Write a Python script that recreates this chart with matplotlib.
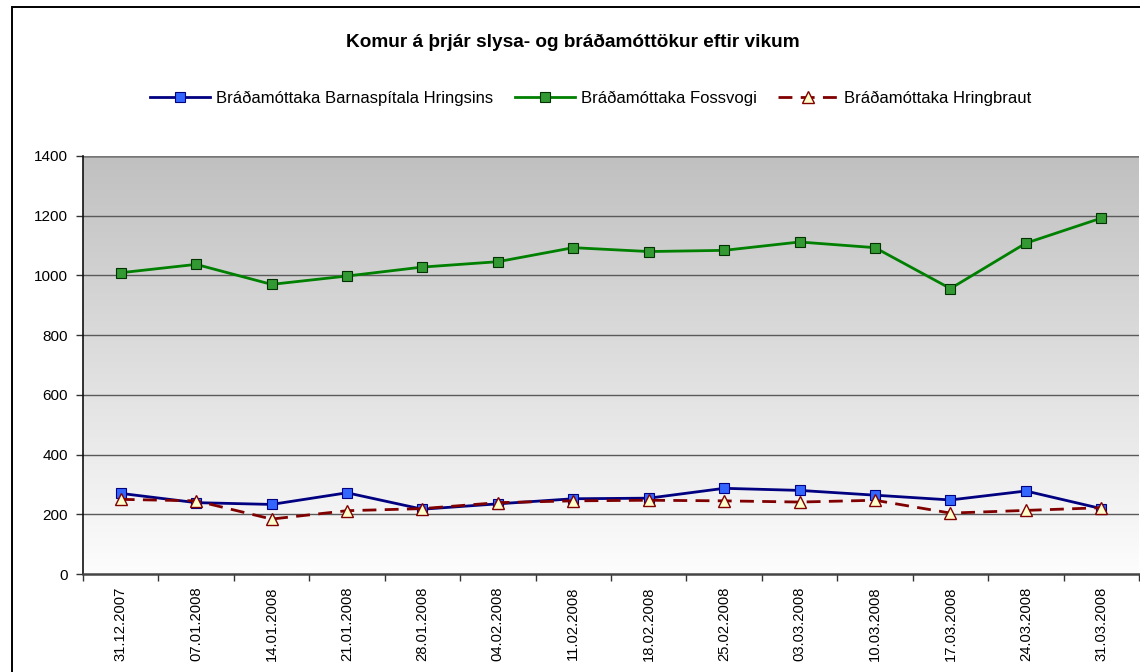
import matplotlib
matplotlib.use("Agg")
import matplotlib.pyplot as plt
import numpy as np
from matplotlib.patches import Rectangle

plt.rcParams['font.family'] = ['Liberation Sans', 'DejaVu Sans']

dates = ["31.12.2007", "07.01.2008", "14.01.2008", "21.01.2008", "28.01.2008",
         "04.02.2008", "11.02.2008", "18.02.2008", "25.02.2008", "03.03.2008",
         "10.03.2008", "17.03.2008", "24.03.2008", "31.03.2008"]
barnaspitali = [270, 239, 233, 272, 217, 235, 252, 254, 287, 280, 264, 248, 278, 219]
fossvogur = [1009, 1037, 970, 998, 1028, 1046, 1093, 1080, 1084, 1112, 1093, 956, 1108, 1192]
hringbraut = [250, 245, 184, 212, 219, 239, 245, 247, 245, 241, 247, 204, 213, 222]
names = ["Bráðamóttaka Barnaspítala Hringsins", "Bráðamóttaka Fossvogi",
         "Bráðamóttaka Hringbraut"]
title = "Komur á þrjár slysa- og bráðamóttökur eftir vikum"
yticks = [0, 200, 400, 600, 800, 1000, 1200, 1400]

W, H = 1140, 672
fig = plt.figure(figsize=(W / 100, H / 100), dpi=100)
fig.patch.set_facecolor("white")

# outer chart border
fig.patches.append(Rectangle((12 / W, -0.2), 1.2, 1 - 7 / H + 0.2,
                             transform=fig.transFigure, fill=False,
                             edgecolor="black", linewidth=1.4, zorder=0))

ax = fig.add_axes([83 / W, 1 - 574 / H, (1139 - 83) / W, (574 - 156) / H])
x = np.arange(len(dates))

# gradient background
grad = np.linspace(0, 1, 256).reshape(-1, 1)
top = np.array([192, 192, 192]) / 255
bot = np.array([253, 253, 253]) / 255
img = top[None, None, :] * (1 - grad[:, :, None]) + bot[None, None, :] * grad[:, :, None]
ax.imshow(img, extent=[0, 1, 0, 1], transform=ax.transAxes, aspect="auto",
          zorder=0, origin="upper")

ax.set_xlim(-0.5, len(dates) - 0.5)
ax.set_ylim(0, 1400)
ax.set_yticks(yticks)
ax.set_yticklabels([str(v) for v in yticks], fontsize=11)
for v in yticks[1:]:
    ax.axhline(v, color="#5a5a5a" if v < 1400 else "#777777",
               linewidth=1.0 if v < 1400 else 1.8, zorder=1)

ax.set_xticks(x)
ax.set_xticklabels(dates, rotation=90, fontsize=10.6)
ax.set_xticks(np.arange(-0.5, len(dates), 1.0), minor=True)
ax.tick_params(axis="x", which="major", length=0, pad=9)
ax.tick_params(axis="x", which="minor", length=5, width=1, color="#333333",
               direction="out")
ax.tick_params(axis="y", length=5, width=1, color="#333333", direction="out", pad=6)

for s in ["top", "right"]:
    ax.spines[s].set_visible(False)
ax.spines["left"].set_color("#111111")
ax.spines["left"].set_linewidth(1.2)
ax.spines["bottom"].set_color("#444444")
ax.spines["bottom"].set_linewidth(1.8)

l1, = ax.plot(x, barnaspitali, color="#000080", linewidth=2.0, marker="s",
              markersize=7.5, markerfacecolor="#3366FF", markeredgecolor="#000080",
              markeredgewidth=0.8, zorder=4, label=names[0])
l2, = ax.plot(x, fossvogur, color="#008000", linewidth=2.0, marker="s",
              markersize=7.5, markerfacecolor="#339933", markeredgecolor="#003300",
              markeredgewidth=0.8, zorder=4, label=names[1])
l3, = ax.plot(x, hringbraut, color="#800000", linewidth=2.0, linestyle=(0, (5, 3)),
              marker="^", markersize=8, markerfacecolor="#FFFFCC",
              markeredgecolor="#800000", markeredgewidth=1.0, zorder=5,
              label=names[2])

fig.text(573 / W, 1 - 42 / H, title, ha="center", va="center",
         fontsize=13.7, fontweight="bold")

fig.legend(handles=[l1, l2, l3], loc="center", bbox_to_anchor=(591 / W, 1 - 98 / H),
           ncol=3, frameon=False, fontsize=12, handlelength=3.6,
           handletextpad=0.35, columnspacing=1.3)

fig.savefig("out.png", dpi=100)
